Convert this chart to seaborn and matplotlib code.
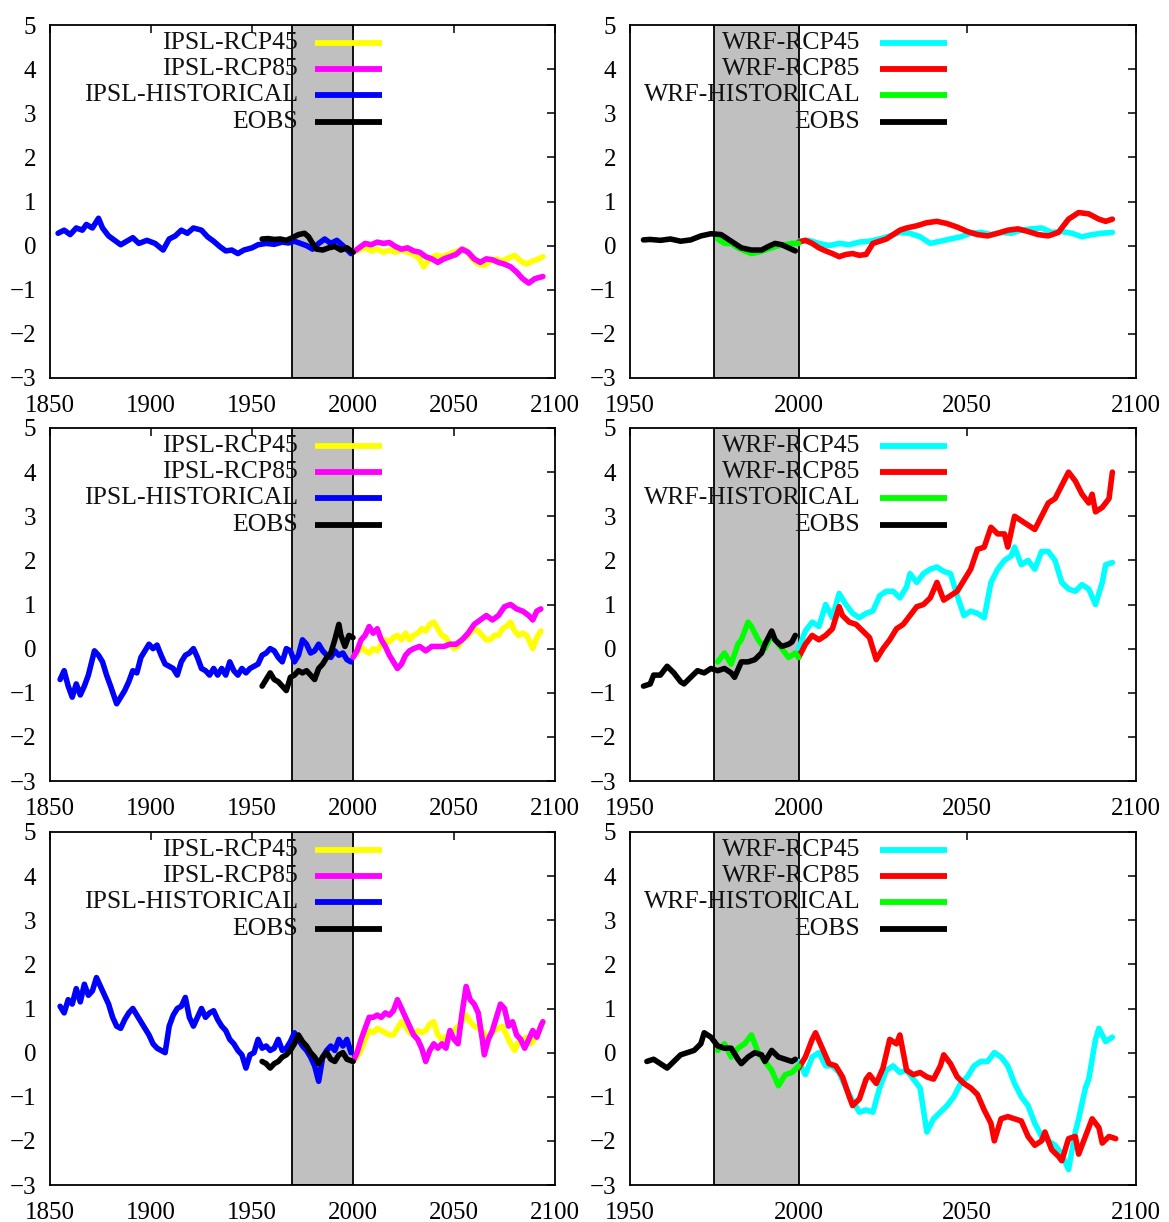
import matplotlib
matplotlib.use("Agg")
import matplotlib.pyplot as plt
import seaborn as sns
import pandas as pd

# ---------------- data ----------------
# Top-left (IPSL)
TL_HIST_Y = [1854,1857,1860,1863,1866,1868,1871,1874,1876,1879,1882,1885,1888,1891,1894,1898,1902,1906,1909,1912,1915,1918,1921,1925,1928,1931,1934,1937,1940,1943,1946,1950,1953,1957,1961,1965,1968,1971,1974,1977,1980,1983,1986,1989,1992,1995,1999]
TL_HIST_V = [0.28,0.35,0.25,0.4,0.35,0.48,0.4,0.62,0.4,0.22,0.12,0.02,0.1,0.18,0.05,0.12,0.05,-0.1,0.15,0.22,0.35,0.28,0.4,0.35,0.2,0.1,-0.02,-0.12,-0.1,-0.18,-0.1,-0.05,0.02,0.05,0.03,0.08,0.06,0.1,0.05,0.0,-0.08,0.05,0.15,0.05,0.12,0.0,-0.18]
TL_EOBS_Y = [1955,1958,1961,1964,1967,1970,1973,1976,1978,1980,1982,1985,1988,1991,1994,1997,2000]
TL_EOBS_V = [0.15,0.16,0.14,0.15,0.12,0.18,0.25,0.28,0.2,0.05,-0.08,-0.1,-0.05,-0.02,-0.1,-0.05,-0.15]
TL_R85_Y = [2000,2003,2006,2009,2012,2015,2018,2021,2024,2027,2030,2033,2036,2039,2042,2045,2048,2051,2054,2057,2060,2063,2066,2069,2072,2075,2078,2081,2084,2087,2090,2094]
TL_R85_V = [-0.15,-0.05,0.05,0.02,0.08,0.05,0.07,-0.02,-0.08,-0.05,-0.12,-0.15,-0.25,-0.3,-0.38,-0.3,-0.25,-0.2,-0.08,-0.15,-0.3,-0.38,-0.3,-0.32,-0.38,-0.42,-0.48,-0.6,-0.75,-0.85,-0.75,-0.7]
TL_R45_Y = [2000,2003,2006,2009,2012,2015,2018,2021,2024,2027,2030,2033,2035,2038,2041,2044,2047,2050,2053,2056,2059,2062,2065,2068,2071,2074,2077,2080,2083,2086,2089,2092,2094]
TL_R45_V = [-0.15,-0.1,-0.05,-0.12,-0.08,-0.15,-0.1,-0.15,-0.1,-0.15,-0.2,-0.3,-0.48,-0.3,-0.22,-0.25,-0.2,-0.15,-0.1,-0.1,-0.3,-0.42,-0.45,-0.35,-0.3,-0.35,-0.28,-0.22,-0.35,-0.42,-0.35,-0.3,-0.25]

# Top-right (WRF)
TR_EOBS_Y = [1954,1956,1959,1962,1965,1968,1971,1974,1977,1979,1981,1983,1986,1989,1991,1993,1995,1997,1999]
TR_EOBS_V = [0.13,0.14,0.12,0.15,0.1,0.13,0.22,0.27,0.25,0.15,0.05,-0.05,-0.1,-0.1,-0.02,0.05,0.02,-0.05,-0.12]
TR_HIST_Y = [1976,1978,1980,1982,1984,1986,1988,1990,1992,1994,1996,1998,2000]
TR_HIST_V = [0.15,0.05,0.05,-0.05,-0.12,-0.18,-0.15,-0.1,-0.05,0.0,0.02,0.05,0.05]
TR_R85_Y = [2000,2002,2004,2006,2008,2010,2012,2014,2016,2018,2020,2022,2024,2026,2028,2030,2032,2035,2038,2041,2044,2047,2050,2053,2056,2059,2062,2065,2068,2071,2074,2077,2080,2083,2086,2089,2091,2093]
TR_R85_V = [0.08,0.12,0.05,-0.05,-0.12,-0.18,-0.25,-0.2,-0.18,-0.22,-0.2,0.05,0.1,0.15,0.25,0.35,0.4,0.45,0.52,0.55,0.5,0.42,0.32,0.25,0.22,0.28,0.35,0.38,0.32,0.25,0.22,0.3,0.6,0.75,0.72,0.6,0.55,0.6]
TR_R45_Y = [2000,2003,2006,2009,2012,2015,2018,2021,2024,2027,2030,2033,2036,2039,2042,2045,2048,2051,2054,2057,2060,2063,2066,2069,2072,2075,2078,2081,2084,2087,2090,2093]
TR_R45_V = [0.1,0.12,0.05,0.0,0.05,0.02,0.08,0.1,0.15,0.22,0.3,0.28,0.2,0.05,0.1,0.15,0.2,0.28,0.3,0.25,0.3,0.28,0.35,0.38,0.4,0.3,0.32,0.28,0.2,0.25,0.28,0.3]

# Middle-left (IPSL)
ML_HIST_Y = [1855,1857,1859,1861,1863,1865,1867,1869,1872,1874,1876,1878,1880,1883,1885,1887,1889,1891,1893,1895,1897,1899,1901,1903,1905,1907,1909,1911,1913,1915,1917,1919,1921,1923,1925,1927,1929,1931,1933,1935,1937,1939,1941,1943,1945,1947,1949,1951,1953,1955,1957,1959,1961,1963,1965,1967,1969,1971,1973,1975,1977,1979,1981,1983,1985,1987,1989,1991,1993,1995,1997,1999]
ML_HIST_V = [-0.7,-0.5,-0.85,-1.1,-0.8,-1.05,-0.85,-0.6,-0.05,-0.15,-0.3,-0.6,-0.85,-1.25,-1.1,-0.95,-0.75,-0.5,-0.55,-0.2,-0.05,0.1,0.0,0.08,-0.15,-0.35,-0.4,-0.45,-0.6,-0.3,-0.15,-0.1,0.0,-0.2,-0.45,-0.5,-0.6,-0.45,-0.6,-0.45,-0.6,-0.3,-0.5,-0.6,-0.45,-0.55,-0.45,-0.4,-0.35,-0.15,-0.1,0.0,-0.05,-0.2,-0.3,0.0,-0.05,-0.3,-0.15,0.2,0.1,-0.1,-0.05,0.1,-0.05,-0.15,-0.2,-0.05,-0.15,-0.1,-0.25,-0.3]
ML_EOBS_Y = [1955,1957,1959,1961,1963,1965,1967,1969,1971,1973,1975,1977,1979,1981,1983,1985,1987,1989,1991,1993,1994,1996,1998,2000]
ML_EOBS_V = [-0.85,-0.7,-0.55,-0.7,-0.75,-0.85,-0.95,-0.65,-0.6,-0.5,-0.55,-0.5,-0.6,-0.7,-0.45,-0.35,-0.2,-0.1,0.2,0.55,0.3,0.05,0.3,0.25]
ML_R85_Y = [2000,2002,2004,2006,2008,2010,2012,2014,2016,2018,2020,2022,2024,2026,2028,2030,2033,2036,2039,2042,2045,2048,2051,2054,2057,2060,2063,2066,2069,2072,2075,2078,2081,2084,2087,2089,2091,2093]
ML_R85_V = [-0.2,-0.05,0.2,0.3,0.5,0.35,0.45,0.2,0.05,-0.15,-0.3,-0.45,-0.35,-0.15,-0.05,0.0,0.05,-0.05,0.05,0.05,0.05,0.1,0.1,0.2,0.35,0.55,0.65,0.75,0.65,0.75,0.95,1.0,0.9,0.85,0.75,0.65,0.85,0.9]
ML_R45_Y = [2000,2002,2004,2006,2008,2010,2012,2014,2016,2018,2020,2022,2024,2026,2028,2030,2032,2034,2036,2038,2040,2042,2044,2046,2048,2050,2052,2054,2056,2058,2060,2062,2064,2066,2068,2070,2072,2074,2076,2078,2080,2082,2084,2086,2088,2089,2091,2093]
ML_R45_V = [-0.2,-0.1,0.05,-0.05,-0.1,0.0,-0.05,0.1,0.2,0.15,0.25,0.3,0.2,0.35,0.2,0.3,0.35,0.45,0.4,0.55,0.6,0.45,0.3,0.25,0.1,0.0,0.05,0.2,0.25,0.35,0.45,0.4,0.3,0.2,0.2,0.3,0.3,0.45,0.5,0.6,0.4,0.3,0.35,0.3,0.1,0.0,0.25,0.4]

# Middle-right (WRF)
MR_EOBS_Y = [1954,1956,1957,1959,1961,1963,1965,1966,1968,1970,1972,1974,1976,1978,1980,1981,1983,1985,1987,1989,1990,1992,1993,1995,1997,1998,1999]
MR_EOBS_V = [-0.85,-0.8,-0.6,-0.6,-0.4,-0.55,-0.75,-0.8,-0.65,-0.5,-0.55,-0.45,-0.5,-0.45,-0.55,-0.65,-0.3,-0.3,-0.25,-0.1,0.1,0.4,0.2,0.05,0.1,0.15,0.3]
MR_HIST_Y = [1976,1978,1980,1982,1983,1985,1986,1988,1990,1992,1994,1996,1997,1999,2000]
MR_HIST_V = [-0.3,-0.1,-0.35,0.1,0.2,0.6,0.5,0.2,0.0,0.3,0.1,-0.1,-0.2,-0.1,-0.2]
MR_R85_Y = [2000,2002,2004,2006,2008,2010,2012,2013,2015,2017,2019,2021,2022,2023,2025,2027,2029,2031,2033,2035,2037,2039,2041,2043,2045,2047,2049,2051,2053,2055,2057,2059,2061,2062,2064,2066,2068,2070,2072,2074,2076,2078,2080,2082,2084,2086,2087,2088,2090,2092,2093]
MR_R85_V = [-0.2,0.1,0.3,0.2,0.3,0.45,0.95,0.75,0.6,0.55,0.4,0.25,0.0,-0.25,0.0,0.2,0.45,0.55,0.75,0.95,1.0,1.15,1.5,1.1,1.2,1.3,1.55,1.8,2.25,2.3,2.75,2.6,2.6,2.3,3.0,2.9,2.8,2.7,3.0,3.3,3.4,3.7,4.0,3.8,3.5,3.3,3.5,3.1,3.2,3.4,4.0]
MR_R45_Y = [2000,2002,2004,2006,2008,2010,2012,2014,2016,2018,2020,2022,2024,2026,2028,2030,2032,2033,2035,2037,2039,2041,2043,2045,2047,2049,2051,2053,2055,2057,2059,2061,2063,2064,2066,2068,2070,2072,2074,2076,2078,2080,2082,2084,2086,2088,2090,2091,2093]
MR_R45_V = [0.0,0.4,0.6,0.5,1.0,0.7,1.25,1.0,0.8,0.7,0.8,0.85,1.2,1.3,1.3,1.15,1.4,1.7,1.5,1.7,1.8,1.85,1.75,1.7,1.2,0.75,0.85,0.8,0.7,1.5,1.8,2.0,2.1,2.3,1.9,2.0,1.8,2.2,2.2,2.0,1.5,1.35,1.3,1.45,1.35,1.0,1.5,1.9,1.95]

# Bottom-left (IPSL)
BL_HIST_Y = [1855,1857,1859,1861,1863,1865,1867,1869,1871,1873,1875,1877,1879,1881,1883,1885,1887,1889,1891,1893,1895,1897,1899,1901,1903,1905,1907,1909,1911,1913,1915,1917,1919,1921,1923,1925,1927,1929,1931,1933,1935,1937,1939,1941,1943,1945,1947,1949,1951,1953,1955,1957,1959,1961,1963,1965,1967,1969,1971,1973,1975,1977,1979,1981,1983,1985,1987,1989,1991,1993,1995,1997,1999]
BL_HIST_V = [1.05,0.9,1.2,1.1,1.45,1.15,1.55,1.3,1.4,1.7,1.5,1.3,1.1,0.8,0.6,0.55,0.75,0.9,1.0,0.85,0.7,0.55,0.4,0.2,0.1,0.05,0.0,0.6,0.85,1.0,1.05,1.25,0.8,0.6,0.8,1.0,0.8,0.9,0.95,0.75,0.6,0.5,0.3,0.2,0.05,-0.05,-0.35,-0.05,0.0,0.3,0.1,0.15,0.05,0.1,0.3,0.05,0.1,0.25,0.45,0.3,0.15,0.05,-0.1,-0.3,-0.65,-0.1,0.05,0.15,0.05,0.3,0.15,0.3,0.0]
BL_EOBS_Y = [1955,1957,1959,1961,1963,1965,1967,1969,1971,1973,1975,1977,1979,1981,1983,1985,1987,1989,1991,1993,1995,1997,2000]
BL_EOBS_V = [-0.2,-0.25,-0.35,-0.25,-0.2,-0.1,-0.05,0.05,0.2,0.4,0.25,0.15,0.0,-0.1,-0.25,-0.1,0.0,-0.15,-0.2,-0.05,0.0,-0.15,-0.2]
BL_R85_Y = [2000,2002,2004,2006,2008,2010,2012,2014,2016,2018,2020,2022,2024,2026,2028,2030,2032,2034,2036,2038,2040,2042,2044,2046,2048,2050,2052,2054,2056,2058,2060,2062,2064,2065,2067,2069,2071,2073,2075,2077,2079,2081,2083,2085,2087,2089,2091,2093,2094]
BL_R85_V = [-0.2,0.0,0.3,0.55,0.8,0.8,0.85,0.8,0.9,0.85,0.95,1.2,1.0,0.8,0.6,0.4,0.3,0.1,-0.2,0.05,0.2,0.1,0.2,0.1,0.5,0.3,0.2,0.9,1.5,1.2,1.1,0.9,0.3,-0.05,0.3,0.5,0.8,1.1,1.0,0.6,0.7,0.4,0.3,0.1,0.3,0.5,0.35,0.6,0.7]
BL_R45_Y = [2000,2002,2004,2006,2008,2010,2012,2014,2016,2018,2020,2022,2024,2026,2028,2030,2032,2034,2036,2038,2040,2042,2044,2046,2048,2050,2052,2054,2056,2058,2060,2062,2064,2066,2068,2070,2072,2074,2076,2078,2080,2082,2084,2086,2088,2090,2092,2094]
BL_R45_V = [-0.2,-0.1,0.05,0.3,0.5,0.45,0.55,0.5,0.45,0.4,0.4,0.55,0.7,0.6,0.45,0.4,0.5,0.45,0.5,0.65,0.7,0.4,0.3,0.35,0.45,0.5,0.6,0.7,0.85,0.7,0.6,0.55,0.5,0.35,0.4,0.5,0.55,0.6,0.4,0.2,0.05,0.25,0.3,0.35,0.2,0.3,0.5,0.7]

# Bottom-right (WRF)
BR_EOBS_Y = [1955,1957,1959,1961,1963,1965,1967,1969,1971,1972,1974,1976,1978,1980,1982,1983,1985,1987,1989,1990,1992,1994,1996,1998,1999]
BR_EOBS_V = [-0.2,-0.15,-0.25,-0.35,-0.2,-0.05,0.0,0.05,0.2,0.45,0.35,0.15,0.1,0.1,-0.15,-0.25,-0.1,0.0,-0.05,-0.2,0.05,-0.1,-0.15,-0.2,-0.15]
BR_HIST_Y = [1976,1978,1980,1982,1984,1986,1988,1990,1992,1994,1996,1998,2000]
BR_HIST_V = [0.05,0.2,-0.1,0.1,0.2,0.4,0.0,-0.2,-0.4,-0.75,-0.5,-0.45,-0.3]
BR_R85_Y = [2000,2002,2004,2005,2007,2009,2011,2013,2015,2016,2018,2020,2021,2023,2025,2027,2029,2030,2032,2034,2036,2038,2040,2042,2043,2045,2047,2049,2051,2053,2055,2057,2058,2060,2062,2064,2066,2068,2070,2072,2073,2075,2077,2078,2080,2082,2083,2085,2087,2089,2090,2092,2094]
BR_R85_V = [-0.35,-0.1,0.3,0.45,0.1,-0.25,-0.3,-0.55,-1.0,-1.2,-1.05,-0.6,-0.5,-0.7,-0.35,0.3,0.2,0.4,-0.4,-0.5,-0.45,-0.55,-0.6,-0.3,-0.05,-0.25,-0.55,-0.7,-0.8,-0.95,-1.3,-1.6,-2.0,-1.5,-1.45,-1.5,-1.55,-1.9,-2.1,-2.0,-1.8,-2.2,-2.35,-2.45,-1.95,-1.9,-2.3,-1.9,-1.5,-1.7,-2.05,-1.9,-1.95]
BR_R45_Y = [2000,2002,2004,2006,2008,2010,2012,2014,2016,2018,2020,2022,2024,2026,2028,2030,2032,2034,2036,2038,2040,2042,2044,2046,2048,2050,2052,2054,2056,2058,2060,2062,2064,2066,2068,2070,2072,2074,2076,2078,2080,2082,2083,2085,2086,2088,2089,2091,2093]
BR_R45_V = [-0.2,-0.5,-0.1,0.0,-0.3,-0.3,-0.45,-0.8,-1.1,-1.35,-1.3,-1.35,-0.8,-0.4,-0.3,-0.45,-0.4,-0.6,-0.8,-1.8,-1.5,-1.35,-1.2,-1.0,-0.7,-0.55,-0.3,-0.2,-0.2,0.0,-0.1,-0.3,-0.7,-1.0,-1.2,-1.6,-1.9,-2.0,-2.1,-2.3,-2.65,-1.8,-1.5,-0.8,-0.6,0.3,0.55,0.25,0.35]

IPSL_LABELS = ["IPSL-RCP45", "IPSL-RCP85", "IPSL-HISTORICAL", "EOBS"]
WRF_LABELS = ["WRF-RCP45", "WRF-RCP85", "WRF-HISTORICAL", "EOBS"]
IPSL_COLORS = ["#ffff00", "#ff00ff", "#0000ff", "#000000"]
WRF_COLORS = ["#00ffff", "#ff0000", "#00ff00", "#000000"]
Y_TICKS = [-3, -2, -1, 0, 1, 2, 3, 4, 5]
X_TICKS_IPSL = [1850, 1900, 1950, 2000, 2050, 2100]
X_TICKS_WRF = [1950, 2000, 2050, 2100]

# ---------------- style ----------------
sns.set_theme(style="white")
plt.rcParams["font.family"] = ["Liberation Serif", "DejaVu Serif"]
plt.rcParams["axes.edgecolor"] = "black"
plt.rcParams["axes.linewidth"] = 1.3

fig = plt.figure(figsize=(11.69, 12.22), dpi=100)
W, H = 1169.0, 1222.0
lefts = [50 / W, 630 / W]
widths = [505 / W, 506 / W]
tops = [25, 428, 832]
ah = 353

panels = [
    [(TL_R45_Y, TL_R45_V), (TL_R85_Y, TL_R85_V), (TL_HIST_Y, TL_HIST_V), (TL_EOBS_Y, TL_EOBS_V)],
    [(TR_R45_Y, TR_R45_V), (TR_R85_Y, TR_R85_V), (TR_HIST_Y, TR_HIST_V), (TR_EOBS_Y, TR_EOBS_V)],
    [(ML_R45_Y, ML_R45_V), (ML_R85_Y, ML_R85_V), (ML_HIST_Y, ML_HIST_V), (ML_EOBS_Y, ML_EOBS_V)],
    [(MR_R45_Y, MR_R45_V), (MR_R85_Y, MR_R85_V), (MR_HIST_Y, MR_HIST_V), (MR_EOBS_Y, MR_EOBS_V)],
    [(BL_R45_Y, BL_R45_V), (BL_R85_Y, BL_R85_V), (BL_HIST_Y, BL_HIST_V), (BL_EOBS_Y, BL_EOBS_V)],
    [(BR_R45_Y, BR_R45_V), (BR_R85_Y, BR_R85_V), (BR_HIST_Y, BR_HIST_V), (BR_EOBS_Y, BR_EOBS_V)],
]

for idx, series in enumerate(panels):
    row, col = divmod(idx, 2)
    ax = fig.add_axes([lefts[col], 1 - (tops[row] + ah) / H, widths[col], ah / H])
    is_ipsl = col == 0
    labels = IPSL_LABELS if is_ipsl else WRF_LABELS
    colors = IPSL_COLORS if is_ipsl else WRF_COLORS
    span = (1970, 2000) if is_ipsl else (1975, 2000)
    ax.axvspan(span[0], span[1], facecolor="#c0c0c0", edgecolor="black", lw=1.3, zorder=2)

    for (yrs, vals), lab, colr in zip(series, labels, colors):
        df = pd.DataFrame({"year": yrs, "value": vals})
        sns.lineplot(data=df, x="year", y="value", ax=ax, color=colr, lw=4.0,
                     estimator=None, sort=False, zorder=4)

    # legend (gnuplot style: right-aligned text, sample to the right)
    tx = 0.491 if is_ipsl else 0.455
    lx0, lx1 = (0.525, 0.657) if is_ipsl else (0.494, 0.627)
    for i, (lab, colr) in enumerate(zip(labels, colors)):
        ty = 0.950 - i * 0.0745
        ax.text(tx, ty, lab, transform=ax.transAxes, ha="right", va="center",
                fontsize=18.5, color="#111111", zorder=5)
        ax.plot([lx0, lx1], [ty, ty], transform=ax.transAxes, color=colr, lw=4.2,
                solid_capstyle="butt", zorder=5)

    ax.set_xlim(1850 if is_ipsl else 1950, 2100)
    ax.set_ylim(-3, 5)
    ax.set_xticks(X_TICKS_IPSL if is_ipsl else X_TICKS_WRF)
    ax.set_yticks(Y_TICKS)
    ax.set_xlabel("")
    ax.set_ylabel("")
    ax.tick_params(direction="in", top=True, right=True, length=6, width=1.1,
                   labelsize=18, colors="black")
    ax.tick_params(axis="x", pad=12)
    ax.tick_params(axis="y", pad=10)
    for sp in ax.spines.values():
        sp.set_visible(True)
        sp.set_color("black")
        sp.set_linewidth(1.3)
    ax.set_facecolor("white")

fig.savefig("out.png", dpi=100)
